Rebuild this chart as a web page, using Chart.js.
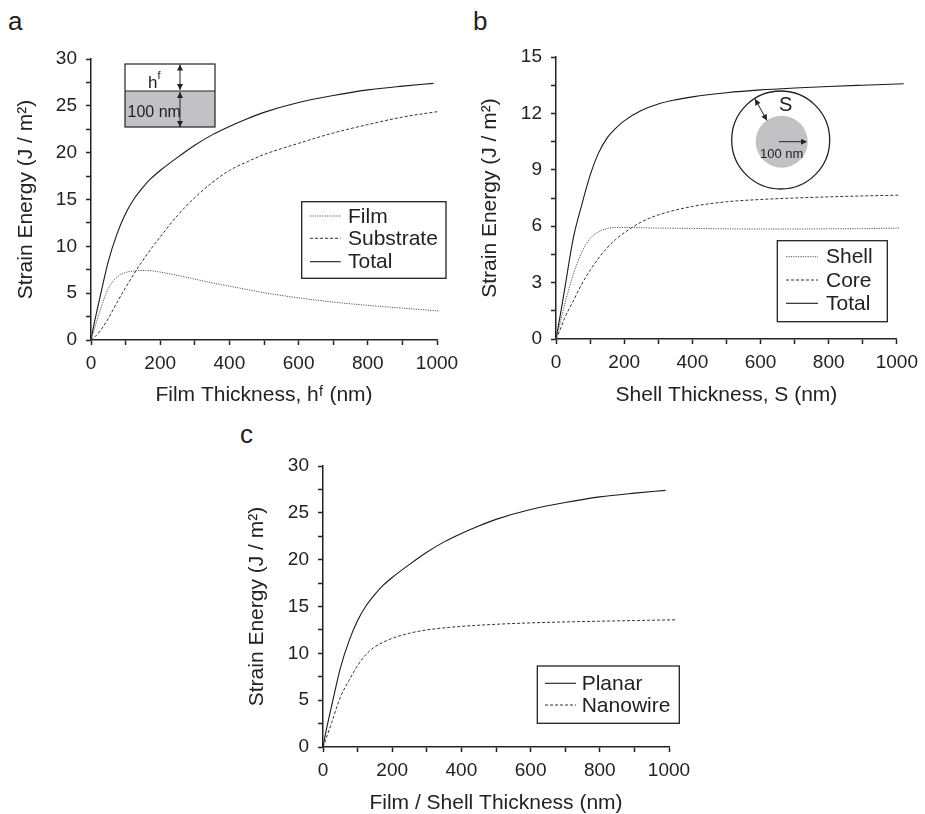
<!DOCTYPE html>
<html>
<head>
<meta charset="utf-8">
<script src="https://cdn.jsdelivr.net/npm/chart.js@4.4.0/dist/chart.umd.min.js"></script>
<style>
    body { margin: 0; background: #fff; width: 925px; height: 814px; position: relative; overflow: hidden;
           font-family: "Liberation Sans", Arial, sans-serif; }
    canvas { position: absolute; }
    .letter { position: absolute; font-size: 26px; line-height: 1; color: #222; }
</style>
</head>
<body>
<div class="letter" style="left:8px; top:8px;">a</div>
<div class="letter" style="left:473px; top:8px;">b</div>
<div class="letter" style="left:240px; top:421px;">c</div>
<canvas id="chart-a" style="left:0; top:0;"></canvas>
<canvas id="chart-b" style="left:465px; top:0;"></canvas>
<canvas id="chart-c" style="left:232px; top:410px;"></canvas>
<script>
// panel a - planar film on substrate
const filmThickness = [0, 10, 25, 50, 75, 100, 125, 150, 175, 200, 250, 300, 350, 400, 450, 500, 600, 700, 800, 900, 1005];
const filmEnergy = [0, 1.2, 3.0, 5.5, 6.7, 7.2, 7.38, 7.42, 7.38, 7.25, 6.9, 6.5, 6.1, 5.75, 5.4, 5.05, 4.5, 4.05, 3.7, 3.4, 3.1];
const substrateEnergy = [0, 0.3, 0.9, 2.3, 4.0, 5.6, 7.1, 8.5, 9.8, 11.0, 13.3, 15.2, 16.8, 18.1, 19.0, 19.8, 21.0, 22.1, 23.0, 23.8, 24.4];
const planarX = [0, 10, 25, 50, 75, 100, 125, 150, 175, 200, 250, 300, 350, 400, 450, 500, 600, 700, 800, 900, 990];
const planarTotal = [0, 1.9, 4.4, 8.4, 11.3, 13.5, 15.1, 16.3, 17.3, 18.1, 19.5, 20.8, 21.9, 22.8, 23.6, 24.3, 25.35, 26.1, 26.7, 27.1, 27.4];

// panel b - core/shell nanowire
const shellThickness = [0, 10, 25, 50, 75, 100, 125, 150, 175, 200, 250, 300, 400, 500, 600, 700, 800, 900, 1008];
const shellEnergy = [0, 0.7, 1.8, 3.4, 4.6, 5.35, 5.7, 5.88, 5.93, 5.93, 5.92, 5.9, 5.88, 5.86, 5.85, 5.85, 5.86, 5.87, 5.9];
const coreEnergy = [0, 0.4, 1.1, 2.0, 2.9, 3.65, 4.3, 4.85, 5.3, 5.65, 6.22, 6.6, 7.05, 7.3, 7.42, 7.5, 7.56, 7.61, 7.65];
const nanowireX = [0, 10, 25, 50, 75, 100, 125, 150, 175, 200, 250, 300, 350, 400, 500, 600, 700, 800, 900, 1020];
const nanowireTotal = [0, 1.0, 2.6, 5.3, 7.1, 8.7, 9.9, 10.7, 11.2, 11.6, 12.15, 12.5, 12.72, 12.88, 13.1, 13.25, 13.35, 13.43, 13.5, 13.58];

const xTicksEvery = 200;

Chart.defaults.font.family = '"Liberation Sans", Arial, sans-serif';
Chart.defaults.color = '#222';

const ink = '#222';
const styles = {
    solid:  { borderColor: '#1a1a1a', borderWidth: 1.1, borderDash: [] },
    dashed: { borderColor: '#333', borderWidth: 1, borderDash: [3, 2] },
    dotted: { borderColor: '#555', borderWidth: 1, borderDash: [1.2, 1.2] }
};

function pts(xs, ys) {
    return xs.map((x, i) => ({ x: x, y: ys[i] }));
}

function line(label, xs, ys, style) {
    return Object.assign({
        label: label,
        data: pts(xs, ys),
        pointRadius: 0,
        fill: false,
        clip: false,
        cubicInterpolationMode: 'monotone'
    }, styles[style]);
}

// legend drawn inside the plot with a frame, like the figure
const boxLegend = {
    id: 'boxLegend',
    afterDraw(chart, args, opts) {
        const ctx = chart.ctx, area = chart.chartArea;
        const x = area.left + opts.x, y = area.top + opts.y;
        ctx.save();
        ctx.strokeStyle = ink;
        ctx.lineWidth = 1.3;
        ctx.strokeRect(x, y, opts.w, opts.h);
        ctx.font = '21px "Liberation Sans", Arial, sans-serif';
        ctx.textBaseline = 'middle';
        chart.data.datasets.forEach((ds, i) => {
            const ry = y + opts.rows[i];
            ctx.setLineDash(ds.borderDash);
            ctx.strokeStyle = ds.borderColor;
            ctx.lineWidth = ds.borderWidth;
            ctx.beginPath();
            ctx.moveTo(x + opts.s0, ry);
            ctx.lineTo(x + opts.s1, ry);
            ctx.stroke();
            ctx.setLineDash([]);
            ctx.fillStyle = ink;
            ctx.fillText(ds.label, x + opts.tx, ry + 1);
        });
        ctx.restore();
    }
};

function arrowHead(ctx, x, y, dx, dy) {
    const len = Math.hypot(dx, dy), ux = dx / len, uy = dy / len;
    ctx.beginPath();
    ctx.moveTo(x, y);
    ctx.lineTo(x - ux * 6 - uy * 3, y - uy * 6 + ux * 3);
    ctx.lineTo(x - ux * 6 + uy * 3, y - uy * 6 - ux * 3);
    ctx.closePath();
    ctx.fill();
}

function doubleArrow(ctx, x1, y1, x2, y2) {
    ctx.beginPath();
    ctx.moveTo(x1, y1);
    ctx.lineTo(x2, y2);
    ctx.stroke();
    arrowHead(ctx, x1, y1, x1 - x2, y1 - y2);
    arrowHead(ctx, x2, y2, x2 - x1, y2 - y1);
}

// little schematic drawings
function drawPlanarInset(chart) {
    const ctx = chart.ctx;
    ctx.save();
    ctx.fillStyle = '#c2c2c4';
    ctx.fillRect(125, 91, 90, 36);
    ctx.strokeStyle = ink;
    ctx.lineWidth = 1.2;
    ctx.strokeRect(125, 64, 90, 63);
    ctx.beginPath();
    ctx.moveTo(125, 91);
    ctx.lineTo(215, 91);
    ctx.stroke();
    ctx.fillStyle = ink;
    ctx.lineWidth = 1;
    doubleArrow(ctx, 180, 64.5, 180, 90);
    doubleArrow(ctx, 180, 92, 180, 127);
    ctx.font = '17px "Liberation Sans", Arial, sans-serif';
    ctx.fillText('h', 148, 88);
    ctx.font = '11px "Liberation Sans", Arial, sans-serif';
    ctx.fillText('f', 157.5, 79);
    ctx.font = '16px "Liberation Sans", Arial, sans-serif';
    ctx.fillText('100 nm', 127.5, 117);
    ctx.restore();
}

function drawWireInset(chart) {
    const ctx = chart.ctx;
    ctx.save();
    ctx.strokeStyle = ink;
    ctx.lineWidth = 1.3;
    ctx.fillStyle = '#fff';
    ctx.beginPath();
    ctx.arc(315.7, 140, 49, 0, Math.PI * 2);
    ctx.fill();
    ctx.stroke();
    ctx.fillStyle = '#c2c2c4';
    ctx.beginPath();
    ctx.arc(316.7, 141.7, 26, 0, Math.PI * 2);
    ctx.fill();
    ctx.fillStyle = ink;
    ctx.lineWidth = 1;
    ctx.beginPath();
    ctx.moveTo(314, 141.7);
    ctx.lineTo(341, 141.7);
    ctx.stroke();
    arrowHead(ctx, 342, 141.7, 1, 0);
    doubleArrow(ctx, 290, 99, 302, 120.5);
    ctx.font = '13px "Liberation Sans", Arial, sans-serif';
    ctx.fillText('100 nm', 295, 158);
    ctx.font = '20px "Liberation Sans", Arial, sans-serif';
    ctx.fillText('S', 314, 111);
    ctx.restore();
}

function makeChart(id, opt) {
    const canvas = document.getElementById(id);
    canvas.width = opt.width;
    canvas.height = opt.height;
    canvas.style.width = opt.width + 'px';
    canvas.style.height = opt.height + 'px';

    const isMajorY = v => Math.abs(v / opt.yMajor - Math.round(v / opt.yMajor)) < 1e-6;

    return new Chart(canvas.getContext('2d'), {
        type: 'line',
        data: { datasets: opt.datasets },
        options: {
            responsive: false,
            animation: false,
            events: [],
            layout: { padding: { left: 0, top: opt.top, right: opt.width - 437, bottom: 0 } },
            plugins: {
                legend: { display: false },
                tooltip: { enabled: false },
                boxLegend: opt.legend
            },
            scales: {
                x: {
                    type: 'linear',
                    min: 0,
                    max: 1000,
                    afterFit: s => { s.height = opt.height - opt.bottom; },
                    border: { color: ink, width: 1.5 },
                    grid: { drawOnChartArea: false, tickLength: 5, color: ink, tickWidth: 1.5 },
                    ticks: {
                        stepSize: 100,
                        autoSkip: false,
                        maxRotation: 0,
                        padding: 7,
                        font: { size: 19 },
                        callback: v => (v % xTicksEvery === 0 ? v : '')
                    },
                    title: {
                        display: true,
                        text: opt.xTitle,
                        font: { size: 21 },
                        padding: { top: 0, bottom: opt.xTitlePad }
                    }
                },
                y: {
                    min: 0,
                    max: opt.yMax,
                    afterFit: s => { s.width = 91; },
                    border: { color: ink, width: 1.5 },
                    grid: { drawOnChartArea: false, tickLength: 5, color: ink, tickWidth: 1.5 },
                    ticks: {
                        stepSize: opt.yMajor / 2,
                        autoSkip: false,
                        padding: 9,
                        font: { size: 19 },
                        callback: v => (isMajorY(v) ? Math.round(v) : '')
                    },
                    title: {
                        display: true,
                        text: 'Strain Energy (J / m\u00B2)',
                        font: { size: 21 },
                        padding: { top: opt.yTitlePad, bottom: 0 }
                    }
                }
            }
        },
        plugins: [boxLegend, { id: 'inset', afterDraw: opt.inset || function() {} }]
    });
}

makeChart('chart-a', {
    width: 470, height: 410, top: 59, bottom: 340,
    yMax: 30, yMajor: 5,
    xTitle: 'Film Thickness, h\u1DA0 (nm)', xTitlePad: 2, yTitlePad: 14,
    datasets: [
        line('Film', filmThickness, filmEnergy, 'dotted'),
        line('Substrate', filmThickness, substrateEnergy, 'dashed'),
        line('Total', planarX, planarTotal, 'solid')
    ],
    legend: { x: 210.7, y: 142.7, w: 144.3, h: 76.6, rows: [14.3, 36.6, 60], s0: 8.3, s1: 39, tx: 46.3 },
    inset: drawPlanarInset
});

makeChart('chart-b', {
    width: 460, height: 410, top: 57, bottom: 339,
    yMax: 15, yMajor: 3,
    xTitle: 'Shell Thickness, S (nm)', xTitlePad: 2, yTitlePad: 12.5,
    datasets: [
        line('Shell', shellThickness, shellEnergy, 'dotted'),
        line('Core', shellThickness, coreEnergy, 'dashed'),
        line('Total', nanowireX, nanowireTotal, 'solid')
    ],
    legend: { x: 221.3, y: 183.7, w: 110, h: 81, rows: [16, 39.3, 62.6], s0: 8.7, s1: 40.7, tx: 48.7 },
    inset: drawWireInset
});

makeChart('chart-c', {
    width: 470, height: 404, top: 56, bottom: 337,
    yMax: 30, yMajor: 5,
    xTitle: 'Film / Shell Thickness (nm)', xTitlePad: -2, yTitlePad: 13,
    datasets: [
        line('Planar', planarX, planarTotal, 'solid'),
        line('Nanowire', nanowireX, nanowireTotal, 'dashed')
    ],
    legend: { x: 214.3, y: 200, w: 142, h: 57.3, rows: [17.3, 39], s0: 7.7, s1: 38.7, tx: 44.4 }
});
</script>
</body>
</html>
